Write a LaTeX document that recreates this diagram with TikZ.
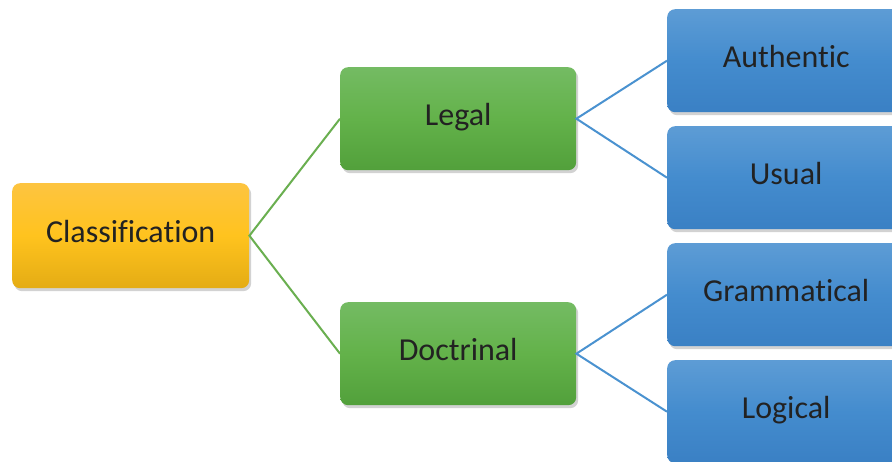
\documentclass[tikz,border=0pt]{standalone}
\usepackage{fontspec}
\setmainfont{Carlito}[Ligatures=NoCommon]
\usetikzlibrary{shadows}
\definecolor{orT}{RGB}{253,196,64}
\definecolor{orM}{RGB}{255,195,30}
\definecolor{orB}{RGB}{228,172,20}
\definecolor{grT}{RGB}{116,187,99}
\definecolor{grM}{RGB}{99,178,74}
\definecolor{grB}{RGB}{82,160,59}
\definecolor{blT}{RGB}{93,156,213}
\definecolor{blM}{RGB}{68,140,206}
\definecolor{blB}{RGB}{58,128,196}
\definecolor{lnG}{RGB}{106,175,80}
\definecolor{lnB}{RGB}{74,146,208}
\definecolor{txt}{RGB}{34,34,34}
\tikzset{
  boxbase/.style={rectangle, rounded corners=8pt, anchor=north west,
    text=txt, font=\fontsize{32}{36}\selectfont, inner sep=0pt,
    drop shadow={opacity=0.35, shadow xshift=2pt, shadow yshift=-3pt}},
  orbox/.style={boxbase, top color=orT, bottom color=orB, middle color=orM},
  grbox/.style={boxbase, top color=grT, bottom color=grB, middle color=grM},
  blbox/.style={boxbase, top color=blT, bottom color=blB, middle color=blM},
  glink/.style={draw=lnG, line width=2pt},
  blink/.style={draw=lnB, line width=2pt}
}
\newcommand{\lift}[1]{\raisebox{8pt}{#1}}
\begin{document}
\begin{tikzpicture}[x=1pt,y=-1pt]
\useasboundingbox (0,0) rectangle (892,462);
\fill[white] (0,0) rectangle (892,462);
\node[orbox, minimum width=237pt, minimum height=105pt] (cls) at (12,183) {\lift{Classification}};
\node[grbox, minimum width=236pt, minimum height=103pt] (leg) at (340,67) {\lift{Legal}};
\node[grbox, minimum width=236pt, minimum height=103pt] (doc) at (340,302) {\lift{Doctrinal}};
\node[blbox, minimum width=238pt, minimum height=103pt] (aut) at (667,9) {\lift{Authentic}};
\node[blbox, minimum width=238pt, minimum height=103pt] (usu) at (667,126) {\lift{Usual}};
\node[blbox, minimum width=238pt, minimum height=103pt] (gra) at (667,243) {\lift{Grammatical}};
\node[blbox, minimum width=238pt, minimum height=103pt] (log) at (667,360) {\lift{Logical}};
\draw[glink] (leg.west) -- (cls.east) -- (doc.west);
\draw[blink] (aut.west) -- (leg.east) -- (usu.west);
\draw[blink] (gra.west) -- (doc.east) -- (log.west);
\end{tikzpicture}
\end{document}
